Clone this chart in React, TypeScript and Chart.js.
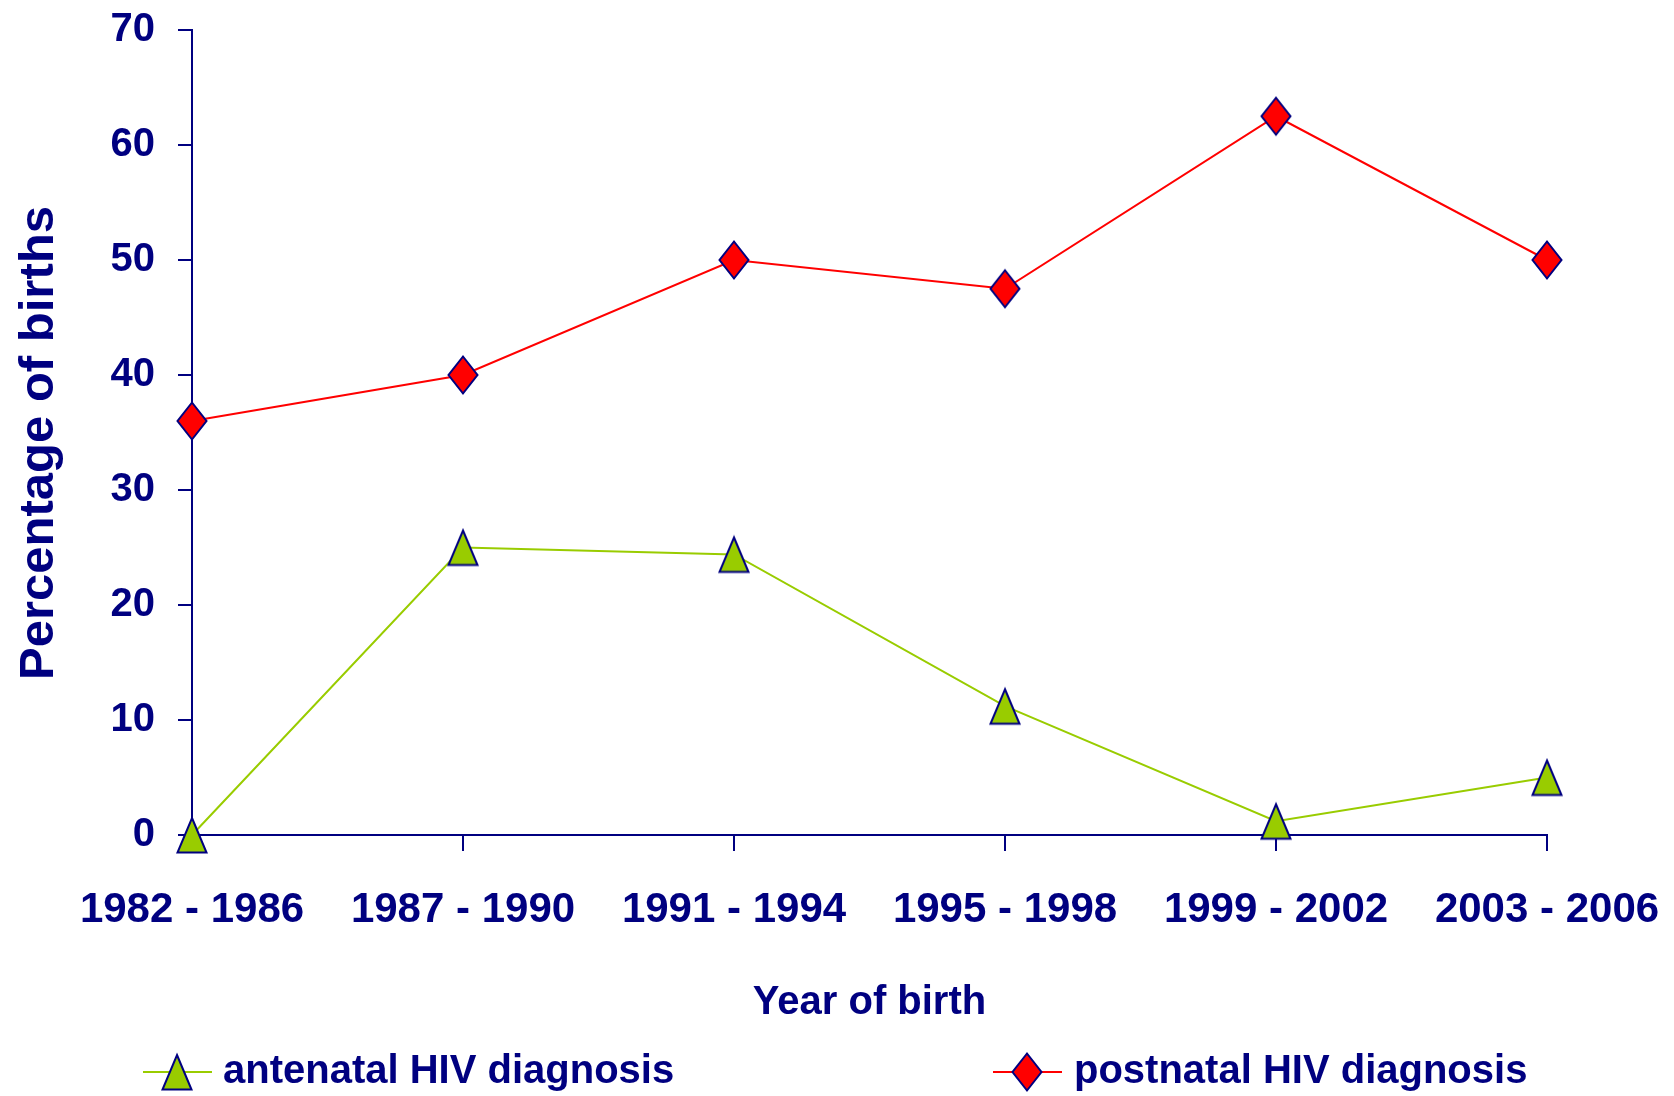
import React, { useEffect, useRef } from "react";
import { Chart, registerables } from "chart.js";

Chart.register(...registerables);

// ---- data ----
const categories = ["1982 - 1986", "1987 - 1990", "1991 - 1994", "1995 - 1998", "1999 - 2002", "2003 - 2006"];
const antenatalValues = [0, 25, 24.4, 11.2, 1.2, 5];
const postnatalValues = [36, 40, 50, 47.5, 62.5, 50];
const seriesNames = ["antenatal HIV diagnosis", "postnatal HIV diagnosis"];
const yMin = 0;
const yMax = 70;
const yStep = 10;
const xTitle = "Year of birth";
const yTitle = "Percentage of births";

// ---- styles ----
const NAVY = "#000080";
const GREEN = "#99CC00";
const RED = "#FF0000";
const FONT = "'Liberation Sans', Arial, Helvetica, sans-serif";

function makeTriangle(): HTMLCanvasElement {
  const c = document.createElement("canvas");
  c.width = 32;
  c.height = 40;
  const g = c.getContext("2d")!;
  g.beginPath();
  g.moveTo(16, 3);
  g.lineTo(30.5, 37.5);
  g.lineTo(1.5, 37.5);
  g.closePath();
  g.fillStyle = GREEN;
  g.fill();
  g.lineWidth = 2;
  g.strokeStyle = NAVY;
  g.stroke();
  return c;
}

function makeDiamond(): HTMLCanvasElement {
  const c = document.createElement("canvas");
  c.width = 34;
  c.height = 42;
  const g = c.getContext("2d")!;
  g.beginPath();
  g.moveTo(17, 2.5);
  g.lineTo(31.5, 21);
  g.lineTo(17, 39.5);
  g.lineTo(2.5, 21);
  g.closePath();
  g.fillStyle = RED;
  g.fill();
  g.lineWidth = 2;
  g.strokeStyle = NAVY;
  g.stroke();
  return c;
}

const legendLayout = [
  { line0: 135, line1: 204, marker: 169, text: 215 },
  { line0: 985, line1: 1054, marker: 1019, text: 1066 },
];

const customLegend = {
  id: "customLegend",
  afterDraw(chart: any) {
    const ctx = chart.ctx as CanvasRenderingContext2D;
    const y = chart.height - 24;
    chart.data.datasets.forEach((ds: any, i: number) => {
      const L = legendLayout[i];
      if (!L) return;
      ctx.save();
      ctx.strokeStyle = ds.borderColor;
      ctx.lineWidth = 2;
      ctx.beginPath();
      ctx.moveTo(L.line0, y);
      ctx.lineTo(L.line1, y);
      ctx.stroke();
      const img = ds.pointStyle as HTMLCanvasElement;
      ctx.drawImage(img, L.marker - img.width / 2, y - img.height / 2);
      ctx.fillStyle = NAVY;
      ctx.font = `bold 40px ${FONT}`;
      ctx.textBaseline = "middle";
      ctx.textAlign = "left";
      ctx.fillText(ds.label, L.text, y);
      ctx.restore();
    });
  },
};

const yTitlePlugin = {
  id: "yTitlePlugin",
  afterDraw(chart: any) {
    const ctx = chart.ctx as CanvasRenderingContext2D;
    const area = chart.chartArea;
    ctx.save();
    ctx.translate(31, (area.top + area.bottom) / 2 + 10.5);
    ctx.rotate(-Math.PI / 2);
    ctx.fillStyle = NAVY;
    ctx.font = `bold 49px ${FONT}`;
    ctx.textAlign = "center";
    ctx.textBaseline = "middle";
    ctx.fillText(yTitle, 0, 0);
    ctx.restore();
  },
};

export default function App() {
  const ref = useRef<HTMLCanvasElement | null>(null);

  useEffect(() => {
    if (!ref.current) return;
    const tri = makeTriangle();
    const dia = makeDiamond();
    const chart = new Chart(ref.current, {
      type: "line",
      data: {
        labels: categories,
        datasets: [
          {
            label: seriesNames[0],
            data: antenatalValues,
            borderColor: GREEN,
            backgroundColor: GREEN,
            borderWidth: 2,
            pointStyle: tri as any,
            pointRadius: 16,
            pointHoverRadius: 16,
            tension: 0,
            clip: false as any,
          },
          {
            label: seriesNames[1],
            data: postnatalValues,
            borderColor: RED,
            backgroundColor: RED,
            borderWidth: 2,
            pointStyle: dia as any,
            pointRadius: 16,
            pointHoverRadius: 16,
            tension: 0,
            clip: false as any,
          },
        ],
      },
      options: {
        responsive: false,
        animation: false,
        events: [],
        layout: { padding: { top: 22, right: 119, bottom: 73, left: 0 } },
        plugins: {
          legend: { display: false },
          tooltip: { enabled: false },
        },
        scales: {
          x: {
            type: "category",
            offset: false,
            grid: {
              drawOnChartArea: false,
              drawTicks: true,
              tickLength: 16,
              color: NAVY,
              lineWidth: 2,
            },
            border: { color: NAVY, width: 2 },
            ticks: {
              color: NAVY,
              font: { family: FONT, size: 42, weight: "bold", lineHeight: 1 },
              padding: 38,
              maxRotation: 0,
              minRotation: 0,
              autoSkip: false,
            },
            title: {
              display: true,
              text: xTitle,
              color: NAVY,
              font: { family: FONT, size: 40, weight: "bold", lineHeight: 1 },
              padding: { top: 52, bottom: 0 },
            },
            afterFit: (s: any) => {
              s.height = 188;
              s.paddingLeft = 0;
              s.paddingRight = 0;
            },
          },
          y: {
            min: yMin,
            max: yMax,
            grid: {
              drawOnChartArea: false,
              drawTicks: true,
              tickLength: 14,
              color: NAVY,
              lineWidth: 2,
            },
            border: { color: NAVY, width: 2 },
            ticks: {
              stepSize: yStep,
              color: NAVY,
              font: { family: FONT, size: 40, weight: "bold", lineHeight: 1 },
              padding: 23,
            },
            title: { display: false },
            afterFit: (s: any) => {
              s.width = 184;
              s.paddingTop = 0;
              s.paddingBottom = 0;
            },
          },
        },
      },
      plugins: [customLegend, yTitlePlugin],
    });
    return () => chart.destroy();
  }, []);

  return (
    <div style={{ width: 1658, height: 1080 }}>
      <canvas
        ref={ref}
        width={1658}
        height={1088}
        style={{ display: "block", position: "fixed", left: 8, top: 8, width: 1658, height: 1088 }}
      />
    </div>
  );
}
